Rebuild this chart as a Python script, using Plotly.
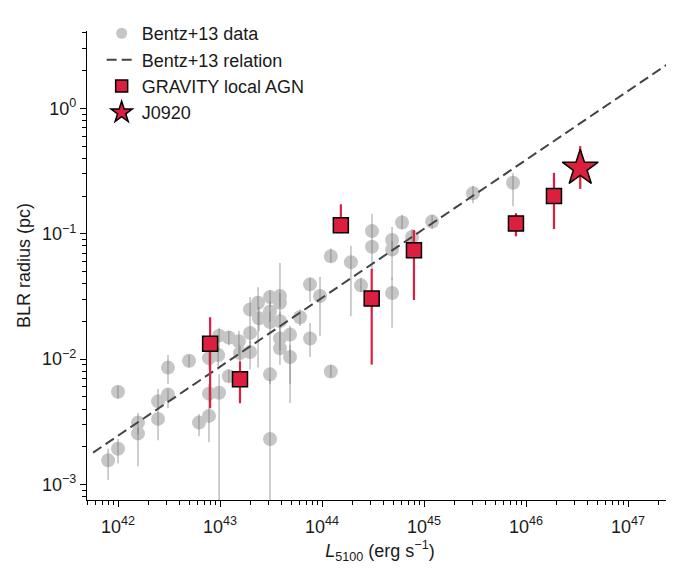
import plotly.graph_objects as go

# ---------------- data ----------------
# Bentz+13 data: L5100 (erg/s), BLR radius (pc), lower & upper bounds (pc)
bentz_L = [8.0e41, 1.0e42, 1.0e42, 1.57e42, 1.57e42, 2.47e42, 2.47e42, 3.09e42, 3.09e42,
           4.97e42, 6.22e42, 7.80e42, 7.80e42, 7.80e42, 9.8e42, 9.8e42, 9.6e42, 1.22e43,
           1.22e43, 1.53e43, 1.57e43, 1.97e43, 1.97e43, 1.97e43, 2.36e43, 2.41e43, 3.09e43,
           3.09e43, 3.09e43, 3.09e43, 3.09e43, 3.87e43, 3.87e43, 3.87e43, 3.87e43, 3.87e43,
           4.86e43, 4.86e43, 6.09e43, 7.63e43, 7.63e43, 9.56e43, 1.22e44, 1.22e44, 1.92e44,
           2.41e44, 3.09e44, 3.09e44, 4.86e44, 4.86e44, 4.86e44, 6.09e44, 7.63e44, 1.20e45,
           3.02e45, 7.46e45]
bentz_R = [1.56e-3, 5.50e-3, 1.93e-3, 3.12e-3, 2.56e-3, 4.61e-3, 3.34e-3, 8.57e-3, 5.22e-3,
           9.71e-3, 3.12e-3, 3.53e-3, 1.02e-2, 5.31e-3, 5.40e-3, 1.54e-2, 1.08e-2, 1.49e-2,
           7.31e-3, 1.39e-2, 1.12e-2, 1.14e-2, 1.62e-2, 2.49e-2, 2.82e-2, 2.12e-2, 3.13e-2,
           2.40e-2, 1.98e-2, 7.57e-3, 2.31e-3, 3.19e-2, 2.82e-2, 2.01e-2, 1.46e-2, 1.22e-2,
           1.57e-2, 1.04e-2, 2.16e-2, 3.95e-2, 1.46e-2, 3.19e-2, 6.61e-2, 7.98e-3, 5.94e-2,
           3.88e-2, 1.05e-1, 7.89e-2, 8.93e-2, 7.48e-2, 3.37e-2, 1.23e-1, 9.42e-2, 1.25e-1,
           2.10e-1, 2.55e-1]
bentz_lo = [1.09e-3, 4.86e-3, 1.48e-3, 2.52e-3, 1.40e-3, 4.07e-3, 2.26e-3, 6.34e-3, 4.07e-3,
            8.57e-3, 2.43e-3, 2.18e-3, 8.28e-3, 4.45e-3, 1.0e-4, 1.18e-2, 8.73e-3, 1.29e-2,
            6.57e-3, 1.08e-2, 9.04e-3, 8.28e-3, 1.29e-2, 2.01e-2, 8.57e-3, 1.68e-2, 2.62e-2,
            1.98e-2, 1.54e-2, 6.34e-3, 1.0e-4, 2.62e-2, 2.20e-2, 1.54e-2, 1.18e-2, 9.04e-3,
            6.34e-3, 4.45e-3, 1.84e-2, 2.87e-2, 1.04e-2, 1.54e-2, 5.94e-2, 7.18e-3, 2.20e-2,
            3.43e-2, 9.10e-2, 5.15e-2, 7.48e-2, 4.32e-2, 1.78e-2, 1.09e-1, 8.32e-2, 1.09e-1,
            1.75e-1, 1.66e-1]
bentz_hi = [1.93e-3, 6.12e-3, 2.31e-3, 3.72e-3, 2.85e-3, 5.80e-3, 4.07e-3, 1.08e-2, 5.80e-3,
            1.08e-2, 3.66e-3, 4.45e-3, 1.29e-2, 6.34e-3, 7.57e-3, 1.78e-2, 1.29e-2, 1.68e-2,
            8.28e-3, 1.68e-2, 1.29e-2, 1.41e-2, 2.01e-2, 3.13e-2, 3.74e-2, 2.62e-2, 3.55e-2,
            2.87e-2, 2.40e-2, 1.54e-2, 6.93e-3, 5.84e-2, 3.37e-2, 2.40e-2, 1.84e-2, 1.54e-2,
            1.84e-2, 1.29e-2, 2.49e-2, 4.47e-2, 1.94e-2, 4.55e-2, 7.62e-2, 9.04e-3, 8.03e-2,
            4.47e-2, 1.44e-1, 9.10e-2, 1.13e-1, 8.78e-2, 4.47e-2, 1.42e-1, 1.09e-1, 1.42e-1,
            2.42e-1, 3.04e-1]

# Bentz+13 relation (end points of the dashed line)
rel_L = [5.7e41, 3.0e47]
rel_R = [1.80e-3, 2.52]

# GRAVITY local AGN
grav_L = [8.0e42, 1.57e43, 1.53e44, 3.07e44, 7.97e44, 7.97e45, 1.88e46]
grav_R = [0.0133, 0.00693, 0.117, 0.0304, 0.0739, 0.121, 0.200]
grav_lo = [0.00406, 0.00445, 0.101, 0.00904, 0.0296, 0.0955, 0.109]
grav_hi = [0.0216, 0.0096, 0.172, 0.0525, 0.107, 0.146, 0.306]

# J0920
j_L = [3.4e46]
j_R = [0.334]
j_lo = [0.228]
j_hi = [0.50]

# tick labels
x_tick_vals = [1e42, 1e43, 1e44, 1e45, 1e46, 1e47]
x_tick_text = ["10<sup>42</sup>", "10<sup>43</sup>", "10<sup>44</sup>",
               "10<sup>45</sup>", "10<sup>46</sup>", "10<sup>47</sup>"]
y_tick_vals = [1e-3, 1e-2, 1e-1, 1e0]
y_tick_text = ["10<sup>\u22123</sup>", "10<sup>\u22122</sup>", "10<sup>\u22121</sup>", "10<sup>0</sup>"]

# ---------------- styles ----------------
RED = "#DC1F3E"
GREY = "#c6c6c6"
FONT = "Liberation Sans, Arial, Helvetica, sans-serif"
TXT = "#1a1a1a"


def up(v, hi):
    return [h - a for a, h in zip(v, hi)]


def down(v, lo):
    return [a - l for a, l in zip(v, lo)]


fig = go.Figure()

# grey markers
fig.add_trace(go.Scatter(
    x=bentz_L, y=bentz_R, mode="markers",
    marker=dict(size=14, color=GREY, line=dict(width=0)),
    showlegend=False, hoverinfo="skip"))
# grey error bars on top of the markers
fig.add_trace(go.Scatter(
    x=bentz_L, y=bentz_R, mode="markers",
    marker=dict(size=1, color="rgba(0,0,0,0)"),
    error_y=dict(type="data", symmetric=False,
                 array=up(bentz_R, bentz_hi), arrayminus=down(bentz_R, bentz_lo),
                 color="rgba(110,110,110,0.45)", thickness=1.5, width=0),
    showlegend=False, hoverinfo="skip"))
# relation
fig.add_trace(go.Scatter(
    x=rel_L, y=rel_R, mode="lines",
    line=dict(color="#444444", width=2, dash="10px,5px"),
    showlegend=False, hoverinfo="skip"))
# GRAVITY
fig.add_trace(go.Scatter(
    x=grav_L, y=grav_R, mode="markers",
    marker=dict(symbol="square", size=15, color=RED, line=dict(color="black", width=1.5)),
    error_y=dict(type="data", symmetric=False,
                 array=up(grav_R, grav_hi), arrayminus=down(grav_R, grav_lo),
                 color=RED, thickness=2.2, width=0),
    showlegend=False, hoverinfo="skip"))
# J0920
fig.add_trace(go.Scatter(
    x=j_L, y=j_R, mode="markers",
    marker=dict(symbol="star", size=27, color=RED, line=dict(color="black", width=1.5)),
    error_y=dict(type="data", symmetric=False,
                 array=up(j_R, j_hi), arrayminus=down(j_R, j_lo),
                 color=RED, thickness=2.2, width=0),
    showlegend=False, hoverinfo="skip"))

# legend-only entries
fig.add_trace(go.Scatter(x=[None], y=[None], mode="markers", name="Bentz+13 data",
                         marker=dict(size=11, color=GREY), legendgroup="a"))
fig.add_trace(go.Scatter(x=[None], y=[None], mode="lines", name="Bentz+13 relation",
                         line=dict(color="#444444", width=2, dash="10px,5px"), legendgroup="b"))
fig.add_trace(go.Scatter(x=[None], y=[None], mode="markers", name="GRAVITY local AGN",
                         marker=dict(symbol="square", size=12, color=RED,
                                     line=dict(color="black", width=1.5)), legendgroup="c"))
fig.add_trace(go.Scatter(x=[None], y=[None], mode="markers", name="J0920",
                         marker=dict(symbol="star", size=16, color=RED,
                                     line=dict(color="black", width=1.5)), legendgroup="d"))

x_minor = [k * 10.0 ** n for n in range(41, 48) for k in range(2, 10)]
y_minor = [k * 10.0 ** n for n in range(-4, 1) for k in range(2, 10)]

fig.update_layout(
    width=674, height=572,
    margin=dict(l=79, r=9, t=7, b=80),
    paper_bgcolor="white", plot_bgcolor="white",
    font=dict(family=FONT, size=18, color=TXT),
    legend=dict(x=0.025, y=1.034, xanchor="left", yanchor="top",
                bgcolor="rgba(0,0,0,0)", font=dict(size=18, color=TXT),
                tracegroupgap=0, itemwidth=30),
    xaxis=dict(type="log", range=[41.696, 47.441], automargin=False,
               tickmode="array", tickvals=x_tick_vals, ticktext=x_tick_text,
               ticks="outside", ticklen=6, tickwidth=1.2, tickcolor="black",
               ticklabelstandoff=4,
               showline=True, linecolor="black", linewidth=1.2, mirror=False,
               showgrid=False, zeroline=False,
               minor=dict(tickmode="array", tickvals=x_minor, ticks="outside",
                          ticklen=3.5, tickwidth=1, tickcolor="black", showgrid=False),
               title=dict(text="<i>L</i><sub>5100</sub> (erg s<sup>\u22121</sup>)",
                          font=dict(size=18), standoff=8),
               tickfont=dict(size=18)),
    yaxis=dict(type="log", range=[-3.123, 0.617], automargin=False,
               tickmode="array", tickvals=y_tick_vals, ticktext=y_tick_text,
               ticks="outside", ticklen=6, tickwidth=1.2, tickcolor="black",
               showline=True, linecolor="black", linewidth=1.2, mirror=False,
               showgrid=False, zeroline=False,
               minor=dict(tickmode="array", tickvals=y_minor, ticks="outside",
                          ticklen=3.5, tickwidth=1, tickcolor="black", showgrid=False),
               title=dict(text="BLR radius (pc)", font=dict(size=18), standoff=6),
               tickfont=dict(size=18)),
)

fig.write_html("out.html")
